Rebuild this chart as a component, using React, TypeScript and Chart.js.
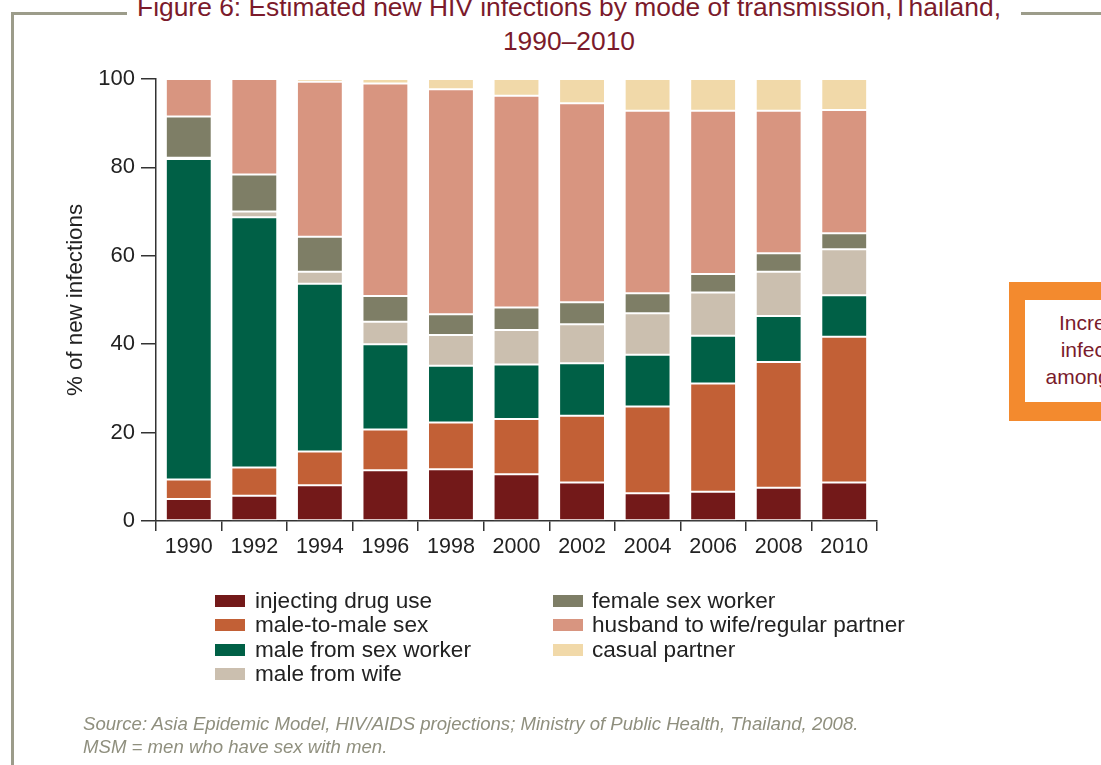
import React, { useEffect, useRef } from "react";
import { Chart, registerables } from "chart.js";

Chart.register(...registerables);

const years = ["1990", "1992", "1994", "1996", "1998", "2000", "2002", "2004", "2006", "2008", "2010"];

const injectingDrugUse = [5.0, 5.7, 8.1, 11.5, 11.7, 10.6, 8.7, 6.3, 6.6, 7.5, 8.7];
const maleToMaleSex = [4.4, 6.4, 7.6, 9.2, 10.6, 12.5, 15.1, 19.6, 24.5, 28.5, 33.0];
const maleFromSexWorker = [72.5, 56.6, 38.0, 19.3, 12.8, 12.3, 11.9, 11.7, 10.8, 10.4, 9.4];
const maleFromWife = [0.3, 1.3, 2.7, 5.1, 7.0, 7.8, 8.8, 9.4, 9.8, 10.0, 10.4];
const femaleSexWorker = [9.3, 8.4, 7.9, 5.8, 4.7, 5.1, 5.0, 4.5, 4.2, 4.2, 3.6];
const husbandToWife = [8.5, 21.6, 35.1, 48.1, 50.9, 47.9, 45.0, 41.3, 36.9, 32.2, 27.9];
const casualPartner = [0, 0, 0.6, 1.0, 2.3, 3.8, 5.5, 7.2, 7.2, 7.2, 7.0];

const seriesLabels = [
  "injecting drug use",
  "male-to-male sex",
  "male from sex worker",
  "male from wife",
  "female sex worker",
  "husband to wife/regular partner",
  "casual partner",
];
const seriesColors = ["#731919", "#C26036", "#006046", "#CBBFAF", "#7E7E66", "#D89580", "#F1D9A9"];

const yTicks = [0, 20, 40, 60, 80, 100];

const FONT = '"Liberation Sans", Arial, Helvetica, sans-serif';

export default function App() {
  const ref = useRef<HTMLCanvasElement>(null);

  useEffect(() => {
    const series = [
      injectingDrugUse,
      maleToMaleSex,
      maleFromSexWorker,
      maleFromWife,
      femaleSexWorker,
      husbandToWife,
      casualPartner,
    ];
    const chart = new Chart(ref.current!, {
      type: "bar",
      data: {
        labels: years,
        datasets: series.map((d, i) => ({
          label: seriesLabels[i],
          data: d,
          backgroundColor: seriesColors[i],
          borderColor: "rgba(255,255,255,0.85)",
          borderWidth: 1,
          borderSkipped: false,
          barPercentage: 0.7,
          categoryPercentage: 1,
        })),
      },
      options: {
        responsive: false,
        animation: false,
        devicePixelRatio: 1,
        layout: { padding: { left: 56, right: 224, top: 79, bottom: 194 } },
        plugins: {
          legend: { display: false },
          tooltip: { enabled: false },
          title: { display: false },
        },
        scales: {
          x: {
            stacked: true,
            afterFit: (s: any) => {
              s.height = 50;
            },
            grid: {
              offset: true,
              drawOnChartArea: false,
              drawTicks: true,
              tickLength: 10,
              color: "#333",
              lineWidth: 1.5,
            },
            border: { display: true, color: "#333", width: 1.5 },
            ticks: {
              color: "#222",
              font: { family: FONT, size: 21.5 },
              padding: 3,
              maxRotation: 0,
              autoSkip: false,
            },
          },
          y: {
            stacked: true,
            min: 0,
            max: 100,
            afterFit: (s: any) => {
              s.width = 100;
            },
            afterBuildTicks: (s: any) => {
              s.ticks = yTicks.map((v) => ({ value: v }));
            },
            ticks: {
              color: "#222",
              font: { family: FONT, size: 22 },
              padding: 6,
            },
            grid: {
              drawOnChartArea: false,
              drawTicks: true,
              tickLength: 15,
              color: "#333",
              lineWidth: 1.5,
            },
            border: { display: true, color: "#333", width: 1.5 },
            title: {
              display: true,
              text: "% of new infections",
              color: "#222",
              font: { family: FONT, size: 22.3 },
              padding: { top: 6, bottom: 0 },
            },
          },
        },
      },
    });
    return () => chart.destroy();
  }, []);

  const frameColor = "#9C9C8A";
  const legendLeft = seriesLabels.slice(0, 4);
  const legendRight = seriesLabels.slice(4);

  return (
    <div
      style={{
        position: "fixed",
        left: 0,
        top: 0,
        width: 1101,
        height: 765,
        overflow: "hidden",
        background: "#fff",
        fontFamily: FONT,
      }}
    >
      {/* frame */}
      <div style={{ position: "absolute", left: 11, top: 12, width: 116, height: 2.5, background: frameColor }} />
      <div style={{ position: "absolute", left: 1021, top: 12, width: 90, height: 2.5, background: frameColor }} />
      <div style={{ position: "absolute", left: 11, top: 12, width: 2.5, height: 760, background: frameColor }} />

      {/* title */}
      <div
        style={{
          position: "absolute",
          left: 0,
          top: -10,
          width: 1138,
          textAlign: "center",
          color: "#7B1A2B",
          fontSize: 26.4,
          lineHeight: "34px",
          whiteSpace: "nowrap",
        }}
      >
        <div>Figure 6: Estimated new HIV infections by mode of transmission,Thailand,</div>
        <div>1990–2010</div>
      </div>

      <canvas ref={ref} width={1101} height={765} style={{ position: "absolute", left: 0, top: 0, width: 1101, height: 765 }} />

      {/* legend */}
      {legendLeft.map((lab, i) => (
        <div key={lab} style={{ position: "absolute", left: 215, top: 601 + i * 24.3 - 12, height: 24, display: "flex", alignItems: "center" }}>
          <div style={{ width: 30, height: 12, background: seriesColors[i], marginRight: 10 }} />
          <span style={{ fontSize: 22.6, color: "#222", whiteSpace: "nowrap" }}>{lab}</span>
        </div>
      ))}
      {legendRight.map((lab, i) => (
        <div key={lab} style={{ position: "absolute", left: 553, top: 601 + i * 24.3 - 12, height: 24, display: "flex", alignItems: "center" }}>
          <div style={{ width: 30, height: 12, background: seriesColors[i + 4], marginRight: 9 }} />
          <span style={{ fontSize: 22.6, color: "#222", whiteSpace: "nowrap" }}>{lab}</span>
        </div>
      ))}

      {/* source */}
      <div
        style={{
          position: "absolute",
          left: 83,
          top: 712,
          fontSize: 18.6,
          lineHeight: "23px",
          fontStyle: "italic",
          color: "#8F8F7E",
          whiteSpace: "nowrap",
        }}
      >
        <div>Source: Asia Epidemic Model, HIV/AIDS projections; Ministry of Public Health, Thailand, 2008.</div>
        <div>MSM = men who have sex with men.</div>
      </div>

      {/* side callout box */}
      <div
        style={{
          position: "absolute",
          left: 1009,
          top: 282,
          width: 192,
          height: 139,
          boxSizing: "border-box",
          borderStyle: "solid",
          borderColor: "#F38A2E",
          borderWidth: "18px 16px 19px 16px",
          background: "#fff",
          color: "#7A1B2C",
          fontSize: 21,
          lineHeight: "27px",
          textAlign: "center",
          paddingTop: 9,
          whiteSpace: "nowrap",
        }}
      >
        <div>Increased</div>
        <div>infections</div>
        <div>among MSM</div>
      </div>
    </div>
  );
}
